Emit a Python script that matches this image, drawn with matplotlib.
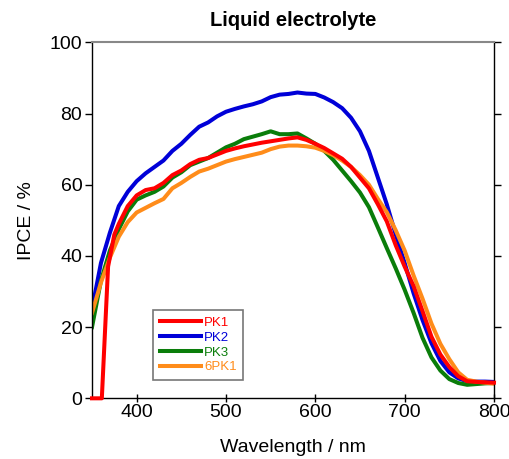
import numpy as np
import matplotlib.pyplot as plt

plt.rcParams['font.family'] = ['Liberation Sans', 'DejaVu Sans']

# wavelength grid (nm) shared by PK2, PK3, 6PK1
wl = [350, 360, 370, 380, 390, 400, 410, 420, 430, 440,
      450, 460, 470, 480, 490, 500, 510, 520, 530, 540,
      550, 560, 570, 580, 590, 600, 610, 620, 630, 640,
      650, 660, 670, 680, 690, 700, 710, 720, 730, 740,
      750, 760, 770, 780, 790, 800]

pk2 = [25, 38, 46.5, 54, 58, 61, 63.2, 65, 66.8, 69.5,
       71.5, 74, 76.3, 77.5, 79.2, 80.5, 81.3, 82, 82.6, 83.4,
       84.6, 85.3, 85.5, 85.9, 85.6, 85.5, 84.5, 83.2, 81.5, 78.8,
       75, 69.5, 62, 54.5, 46, 38, 29.5, 22, 15.5, 10.5,
       7.3, 5.6, 4.8, 4.7, 4.7, 4.6]

pk3 = [20, 33, 41.5, 47.5, 52.5, 55.8, 57, 58, 59.5, 62,
       63.5, 65.5, 66.5, 67.5, 69, 70.5, 71.5, 72.8, 73.5, 74.2,
       75, 74.2, 74.2, 74.4, 73, 71.5, 69.5, 67, 64, 61,
       57.8, 53.7, 48, 42.2, 36.5, 30.5, 24, 17, 11.5, 7.8,
       5.4, 4.3, 3.8, 4, 4.2, 4.3]

pk6 = [24, 32.5, 39.5, 45.4, 49.5, 52.2, 53.5, 54.8, 56, 59,
       60.5, 62.2, 63.7, 64.5, 65.5, 66.5, 67.2, 67.8, 68.4, 69,
       70, 70.7, 71, 71, 70.8, 70.4, 69.5, 68.3, 66.8, 65,
       62.7, 60, 56, 52.3, 47.2, 41.5, 34.5, 28, 21, 15.3,
       11, 7.3, 5.2, 4.7, 4.4, 4.1]

# PK1 has its own grid because of the step near 360 nm
wl_pk1 = [350, 361, 368, 375, 380, 390, 400, 410, 420, 430,
          440, 450, 460, 470, 480, 490, 500, 510, 520, 530,
          540, 550, 560, 570, 580, 590, 600, 610, 620, 630,
          640, 650, 660, 670, 680, 690, 700, 710, 720, 730,
          740, 750, 760, 770, 780, 790, 800]
pk1 = [0, 0, 37, 46, 49, 54, 57, 58.5, 59, 60.5,
       62.7, 64, 65.8, 67, 67.5, 68.5, 69.5, 70.2, 70.8, 71.3,
       71.8, 72.2, 72.6, 73, 73.3, 72.6, 71.5, 70.3, 68.8, 67.3,
       65, 62, 59, 54.5, 49.7, 43, 37, 31.5, 24.5, 17.3,
       12.3, 8.8, 6.2, 4.8, 4.6, 4.5, 4.4]

fig = plt.figure(figsize=(5.1, 4.59), dpi=100)
ax = fig.add_axes([0.1804, 0.1322, 0.7882, 0.7756])

lw = 2.9
ax.plot(wl_pk1, pk1, color='#ff0000', lw=lw, label='PK1', clip_on=False, zorder=5)
ax.plot(wl, pk2, color='#0000d8', lw=lw, label='PK2')
ax.plot(wl, pk3, color='#0a7d0a', lw=lw, label='PK3')
ax.plot(wl, pk6, color='#ff8c1a', lw=lw, label='6PK1')

ax.set_xlim(350, 800)
ax.set_ylim(0, 100)
ax.set_xticks([400, 500, 600, 700, 800])
ax.set_yticks([0, 20, 40, 60, 80, 100])

for s in ['left', 'bottom', 'right']:
    ax.spines[s].set_color('black')
    ax.spines[s].set_linewidth(1.0)
ax.spines['top'].set_color('#888888')
ax.spines['top'].set_linewidth(1.5)

ax.tick_params(axis='y', which='both', left=True, right=True, direction='out',
               length=5, width=1, labelsize=14, pad=2)
ax.tick_params(axis='x', which='both', bottom=True, top=False, direction='inout',
               length=6, width=1, labelsize=14, pad=1)

ax.set_xlabel('Wavelength / nm', fontsize=14, labelpad=13)
ax.set_ylabel('IPCE / %', fontsize=14)
ax.yaxis.set_label_coords(-0.142, 0.5)
ax.set_title('Liquid electrolyte', fontsize=14.5, fontweight='bold', pad=12)

leg = ax.legend(loc='upper left', bbox_to_anchor=(0.1525, 0.248), fontsize=9.5,
                frameon=True, fancybox=False, handlelength=3.1, handletextpad=0.25,
                labelspacing=0.2, borderpad=0.5, borderaxespad=0,
                labelcolor='linecolor')
leg.get_frame().set_edgecolor('#555555')
leg.get_frame().set_linewidth(1.2)

fig.savefig('out.png', dpi=100)
